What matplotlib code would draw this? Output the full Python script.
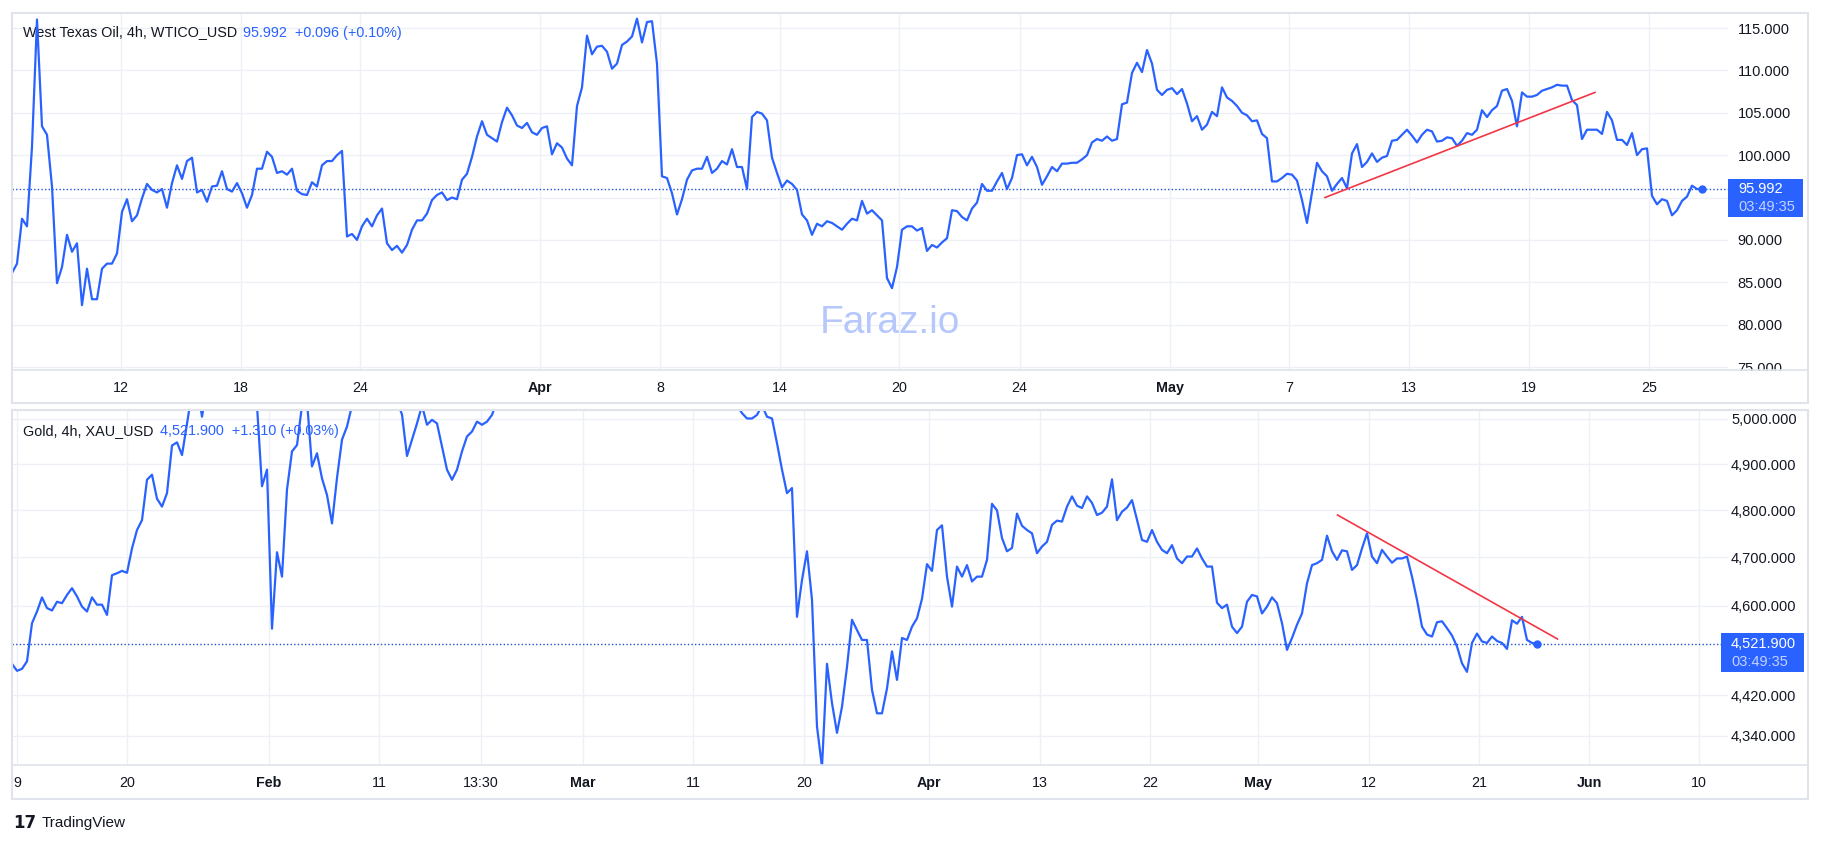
"""Recreate the TradingView two-panel chart: WTI oil (top) and gold (bottom), 4h."""

from pathlib import Path

import matplotlib

matplotlib.use("Agg")

import matplotlib.pyplot as plt
from matplotlib.lines import Line2D
from matplotlib.patches import Rectangle
from matplotlib.ticker import FixedLocator, FuncFormatter, NullLocator

OUTPUT_PNG = Path("out.png")
W, H = 1821, 844

# --- West Texas Oil, 4h samples (one value per bar step) ---
OIL_PRICE = [
    86.1, 87.2, 92.5, 91.6, 101.0, 116.0, 103.4, 102.4, 96.3, 84.9,
    86.8, 90.6, 88.6, 89.6, 82.3, 86.6, 83.0, 83.0, 86.6, 87.2,
    87.2, 88.4, 93.3, 94.8, 92.2, 92.9, 94.9, 96.6, 95.9, 95.6,
    96.0, 93.8, 96.7, 98.8, 97.2, 99.3, 99.7, 95.6, 95.9, 94.5,
    96.3, 96.4, 98.1, 96.0, 95.7, 96.7, 95.5, 93.8, 95.3, 98.4,
    98.4, 100.4, 99.8, 97.9, 98.1, 97.7, 98.4, 95.8, 95.4, 95.3,
    96.8, 96.3, 98.8, 99.3, 99.3, 100.0, 100.5, 90.4, 90.7, 90.0,
    91.6, 92.5, 91.6, 92.9, 93.7, 89.6, 88.8, 89.3, 88.5, 89.4,
    91.2, 92.3, 92.3, 93.1, 94.7, 95.3, 95.6, 94.7, 95.0, 94.8,
    97.1, 97.8, 99.8, 102.2, 104.0, 102.4, 102.0, 101.6, 103.9, 105.6,
    104.7, 103.5, 103.2, 103.8, 102.7, 102.4, 103.2, 103.4, 100.1, 101.4,
    100.9, 99.6, 98.8, 105.8, 108.0, 114.1, 111.9, 112.8, 112.9, 112.2,
    110.2, 110.8, 113.0, 113.4, 114.0, 116.1, 113.3, 115.7, 115.8, 110.8,
    97.5, 97.3, 95.5, 93.0, 94.8, 97.1, 98.2, 98.4, 98.4, 99.8,
    97.9, 98.4, 99.3, 98.9, 100.7, 98.6, 98.6, 96.0, 104.5, 105.1,
    104.9, 104.1, 99.7, 97.9, 96.2, 97.0, 96.6, 95.9, 93.0, 92.3,
    90.6, 91.9, 91.6, 92.2, 92.0, 91.6, 91.2, 91.9, 92.5, 92.3,
    94.6, 93.1, 93.5, 92.9, 92.3, 85.5, 84.3, 86.8, 91.2,
    91.6, 91.6, 91.1, 91.4, 88.7, 89.4, 89.1, 89.7, 90.2, 93.5, 93.4,
    92.7, 92.3, 93.7, 94.4, 96.6, 95.8, 95.8, 96.9, 97.9, 96.0,
    97.3, 100.0, 100.1, 98.8, 99.8, 98.6, 96.5, 97.5, 98.6, 98.1,
    99.0, 99.0, 99.1, 99.1, 99.5, 100.0, 101.5, 101.9, 101.7, 102.2,
    101.7, 101.9, 106.0, 106.2, 109.7, 110.9, 109.8, 112.4, 110.8, 107.7,
    107.1, 107.7, 107.9, 107.2, 107.8, 106.1, 104.0, 104.6, 103.0, 103.6,
    105.1, 104.6, 108.0, 106.8, 106.4, 105.8, 105.0, 104.7, 104.0, 104.1,
    102.5, 102.0, 96.9, 96.9, 97.3, 97.8, 97.7, 97.0, 94.7, 92.0,
    95.6, 99.1, 98.1, 97.5, 95.8, 96.6, 97.3, 96.1, 100.2, 101.3,
    98.6, 99.2, 100.2, 99.2, 99.7, 99.9, 101.7, 101.8, 102.4, 103.0,
    102.3, 101.5, 102.4, 103.0, 102.8, 101.6, 101.7, 102.1, 102.0, 101.1,
    101.7, 102.6, 102.4, 103.0, 105.3, 104.5, 105.3, 105.8, 107.6, 107.8,
    106.4, 103.4, 107.4, 106.9, 106.9, 107.1, 107.6, 107.8, 108.0, 108.3,
    108.2, 108.2, 106.5, 105.9, 101.9, 103.0, 103.0, 103.0, 102.5, 105.1,
    104.1, 101.8, 101.8, 101.2, 102.6, 100.0, 100.7, 100.8, 95.2, 94.2,
    94.8, 94.6, 92.9, 93.5, 94.6, 95.1, 96.4, 96.0, 95.992,
]
OIL_LAST = 95.992
OIL_TICK_POS = [21.8, 45.8, 69.6, 105.6, 129.6, 153.6, 177.4, 201.5, 231.6, 255.4, 279.4, 303.4, 327.4]
OIL_TICK_LABELS = ["12", "18", "24", "Apr", "8", "14", "20", "24", "May", "7", "13", "19", "25"]
OIL_Y_TICKS = [75, 80, 85, 90, 95, 100, 105, 110, 115]
OIL_TREND_BARS = [262.6, 316.6]
OIL_TREND_PRICE = [95.0, 107.4]

# --- Gold, 4h samples (values above the pane top are clipped in the original) ---
GOLD_PRICE = [
    4482, 4468, 4472, 4487, 4564, 4588, 4617, 4595, 4590, 4608,
    4605, 4622, 4636, 4619, 4598, 4588, 4617, 4602, 4602, 4581,
    4663, 4667, 4672, 4668, 4719, 4758, 4779, 4866, 4877, 4825,
    4808, 4837, 4941, 4948, 4920, 4990,
    5060, 5080, 5005, 5070, 5100, 5120, 5110, 5090, 5100, 5080, 5090, 5070, 5060, 5030,
    4852, 4888, 4553, 4711, 4660, 4845, 4928, 4942, 5030, 5040,
    4895, 4924, 4869, 4833, 4772, 4870, 4954, 4983, 5030,
    5080, 5100, 5120, 5110, 5100, 5090, 5080, 5070, 5040, 5010,
    4918, 4954, 4990, 5030, 4987, 4998, 4990, 4939, 4888, 4866,
    4888, 4928, 4961, 4972, 4994, 4987, 4994, 5009,
    5040, 5070, 5100, 5130, 5160, 5190, 5220, 5250, 5270, 5300,
    5330, 5360, 5380, 5400, 5430, 5460, 5490, 5510, 5480, 5440,
    5400, 5370, 5340, 5310, 5280, 5260, 5240, 5220, 5200, 5180,
    5170, 5150, 5140, 5130, 5120, 5110, 5100, 5090, 5080, 5075,
    5070, 5065, 5060, 5055, 5050, 5045, 5040, 5035, 5030,
    5013, 5001, 5001, 5009, 5030, 5005, 5001, 4946, 4888, 4837,
    4848, 4577, 4653, 4713, 4612, 4358, 4280, 4482, 4404, 4346,
    4397, 4476, 4571, 4550, 4530, 4530, 4430, 4384, 4384, 4433,
    4507, 4450,
    4534, 4530, 4557, 4574, 4614, 4686, 4672, 4758, 4768, 4660,
    4598, 4681, 4660, 4684, 4650, 4660, 4660, 4695, 4814, 4800,
    4741, 4713, 4720, 4793, 4767, 4758, 4751, 4709, 4723, 4733,
    4769, 4778, 4776, 4808, 4830, 4810, 4805, 4830, 4816, 4790,
    4795, 4808, 4867, 4779, 4797, 4806, 4822, 4780, 4737, 4733,
    4758, 4733, 4716, 4709, 4726, 4698, 4688, 4702, 4702, 4719,
    4698, 4681, 4681, 4606, 4595, 4602, 4557, 4544, 4557, 4608,
    4622, 4619, 4584, 4598, 4617, 4605, 4564, 4510, 4534, 4561,
    4584, 4646, 4684, 4688, 4695, 4746, 4713, 4695, 4715, 4713,
    4674, 4684, 4719, 4751, 4702, 4688, 4716, 4702, 4689, 4698,
    4698, 4702, 4660, 4612, 4557, 4541, 4537, 4566, 4568, 4554,
    4539, 4517, 4483, 4466, 4524, 4543, 4527, 4524, 4537, 4528,
    4524, 4512, 4570, 4563, 4577, 4530, 4524, 4521.9,
]
GOLD_LAST = 4521.9
GOLD_TICK_POS = [1.0, 23.0, 51.4, 73.4, 93.8, 114.2, 136.2, 158.4, 183.4, 205.6,
                 227.6, 249.2, 271.4, 293.4, 315.4, 337.4]
GOLD_TICK_LABELS = ["9", "20", "Feb", "11", "13:30", "Mar", "11", "20", "Apr", "13",
                    "22", "May", "12", "21", "Jun", "10"]
GOLD_Y_TICKS = [4340, 4420, 4600, 4700, 4800, 4900, 5000]
GOLD_TREND_BARS = [265.1, 309.1]
GOLD_TREND_PRICE = [4790, 4532]

MONTHS = {"Feb", "Mar", "Apr", "May", "Jun"}
BLUE = "#2962ff"
RED = "#f23645"
TEXT = "#131722"
GRID = "#eef0f5"
BORDER = "#e0e3eb"


def fx(x):
    return x / W


def fy(y):
    return 1 - y / H


def px_axes(fig, left, top, right, bottom):
    return fig.add_axes([fx(left), fy(bottom), (right - left) / W, (bottom - top) / H])


def style_axes(ax, tick_pos, tick_labels, y_ticks, fmt, ypad):
    ax.set_xlim(0, 343.2)
    ax.xaxis.set_major_locator(FixedLocator(tick_pos))
    ax.set_xticklabels(tick_labels)
    for lab in ax.get_xticklabels():
        if lab.get_text() in MONTHS:
            lab.set_fontweight("bold")
    ax.yaxis.tick_right()
    ax.yaxis.set_major_locator(FixedLocator(y_ticks))
    ax.yaxis.set_minor_locator(NullLocator())
    ax.yaxis.set_major_formatter(FuncFormatter(fmt))
    ax.tick_params(axis="x", length=0, pad=8, labelsize=10.3, labelcolor=TEXT)
    ax.tick_params(axis="y", which="both", length=0, pad=ypad, labelsize=10.5, labelcolor=TEXT)
    for lab in ax.get_yticklabels():
        lab.set_horizontalalignment("left")
    ax.grid(True, color=GRID, lw=1)
    ax.set_axisbelow(True)
    for spine in ax.spines.values():
        spine.set_visible(False)


def price_box(fig, ax, price, x0, width, up, down, label, tx):
    _, py = ax.transData.transform((0, price))
    py = H - py  # image pixel row of the price
    fig.add_artist(Rectangle((fx(x0), fy(py + down)), width / W, (up + down) / H,
                             transform=fig.transFigure, fc=BLUE, ec="none", zorder=3))
    fig.text(fx(tx), fy(py), label, color="white", fontsize=10.5, va="center", zorder=4)
    fig.text(fx(tx), fy(py + 18), "03:49:35", color="#c4d2ff", fontsize=10.5, va="center", zorder=4)


def main() -> None:
    plt.rcParams["font.family"] = ["Liberation Sans", "DejaVu Sans"]
    fig = plt.figure(figsize=(W / 100, H / 100), dpi=100)

    # Top pane: oil
    ax1 = px_axes(fig, 12, 13, 1728, 370)
    ax1.plot(range(len(OIL_PRICE)), OIL_PRICE, color=BLUE, lw=1.6, zorder=3)
    ax1.plot(OIL_TREND_BARS, OIL_TREND_PRICE, color=RED, lw=1.2, zorder=4)
    ax1.axhline(OIL_LAST, color="#2050d8", lw=1.0, ls=(0, (1, 1.6)), zorder=2)
    ax1.plot(len(OIL_PRICE) - 1, OIL_LAST, "o", color=BLUE, ms=5, zorder=5)
    ax1.set_ylim(74.65, 116.77)
    style_axes(ax1, OIL_TICK_POS, OIL_TICK_LABELS, OIL_Y_TICKS,
               lambda v, _: "" if v == 95 else f"{v:.3f}", 7)
    ax1.text(0.5117, 0.1317, "Faraz.io", transform=ax1.transAxes, ha="center", va="center",
             fontsize=28, color="#b5c7fb", zorder=1)
    ax1.text(fx(23), fy(32.5), "West Texas Oil, 4h, WTICO_USD", transform=fig.transFigure,
             fontsize=10.4, color=TEXT, va="center", zorder=1)
    ax1.text(fx(243), fy(32.5), "95.992  +0.096 (+0.10%)", transform=fig.transFigure,
             fontsize=10.4, color=BLUE, va="center", zorder=1)

    # Bottom pane: gold
    ax2 = px_axes(fig, 12, 410, 1728, 765)
    ax2.set_yscale("log")
    ax2.plot(range(len(GOLD_PRICE)), GOLD_PRICE, color=BLUE, lw=1.6, zorder=3)
    ax2.plot(GOLD_TREND_BARS, GOLD_TREND_PRICE, color=RED, lw=1.2, zorder=4)
    ax2.axhline(GOLD_LAST, color="#2050d8", lw=1.0, ls=(0, (1, 1.6)), zorder=2)
    ax2.plot(len(GOLD_PRICE) - 1, GOLD_LAST, "o", color=BLUE, ms=5, zorder=5)
    ax2.set_ylim(4284, 5020)
    style_axes(ax2, GOLD_TICK_POS, GOLD_TICK_LABELS, GOLD_Y_TICKS,
               lambda v, _: f"{v:,.3f}", 2.2)
    ax2.yaxis.set_minor_formatter(FuncFormatter(lambda v, _: ""))
    ax2.text(fx(23), fy(431), "Gold, 4h, XAU_USD", transform=fig.transFigure,
             fontsize=10.4, color=TEXT, va="center", zorder=1)
    ax2.text(fx(160), fy(431), "4,521.900  +1.310 (+0.03%)", transform=fig.transFigure,
             fontsize=10.4, color=BLUE, va="center", zorder=1)

    # Pane frames, axis separators and a mask for the clipped bottom label
    fig.add_artist(Rectangle((fx(1729), fy(402)), 77 / W, 31 / H, transform=fig.transFigure,
                             fc="white", ec="none", zorder=1))
    for top, bottom, sep in [(13, 403, 370), (410, 799, 765)]:
        fig.add_artist(Rectangle((fx(12), fy(bottom)), 1796 / W, (bottom - top) / H,
                                 transform=fig.transFigure, fill=False, ec=BORDER, lw=1.5, zorder=2))
        fig.add_artist(Line2D([fx(12), fx(1808)], [fy(sep), fy(sep)], transform=fig.transFigure,
                              color=BORDER, lw=1.2, zorder=2))

    price_box(fig, ax1, OIL_LAST, 1728, 75, 10, 28, "95.992", 1738)
    price_box(fig, ax2, GOLD_LAST, 1721, 83, 11, 28, "4,521.900", 1731)

    # Footer logo
    fig.text(fx(13), fy(823), "17", fontsize=12, fontweight="heavy", color=TEXT, va="center",
             family="DejaVu Sans")
    fig.text(fx(42), fy(823), "TradingView", fontsize=11, color=TEXT, va="center")

    fig.savefig(OUTPUT_PNG, dpi=100)
    plt.close(fig)


if __name__ == "__main__":
    main()
